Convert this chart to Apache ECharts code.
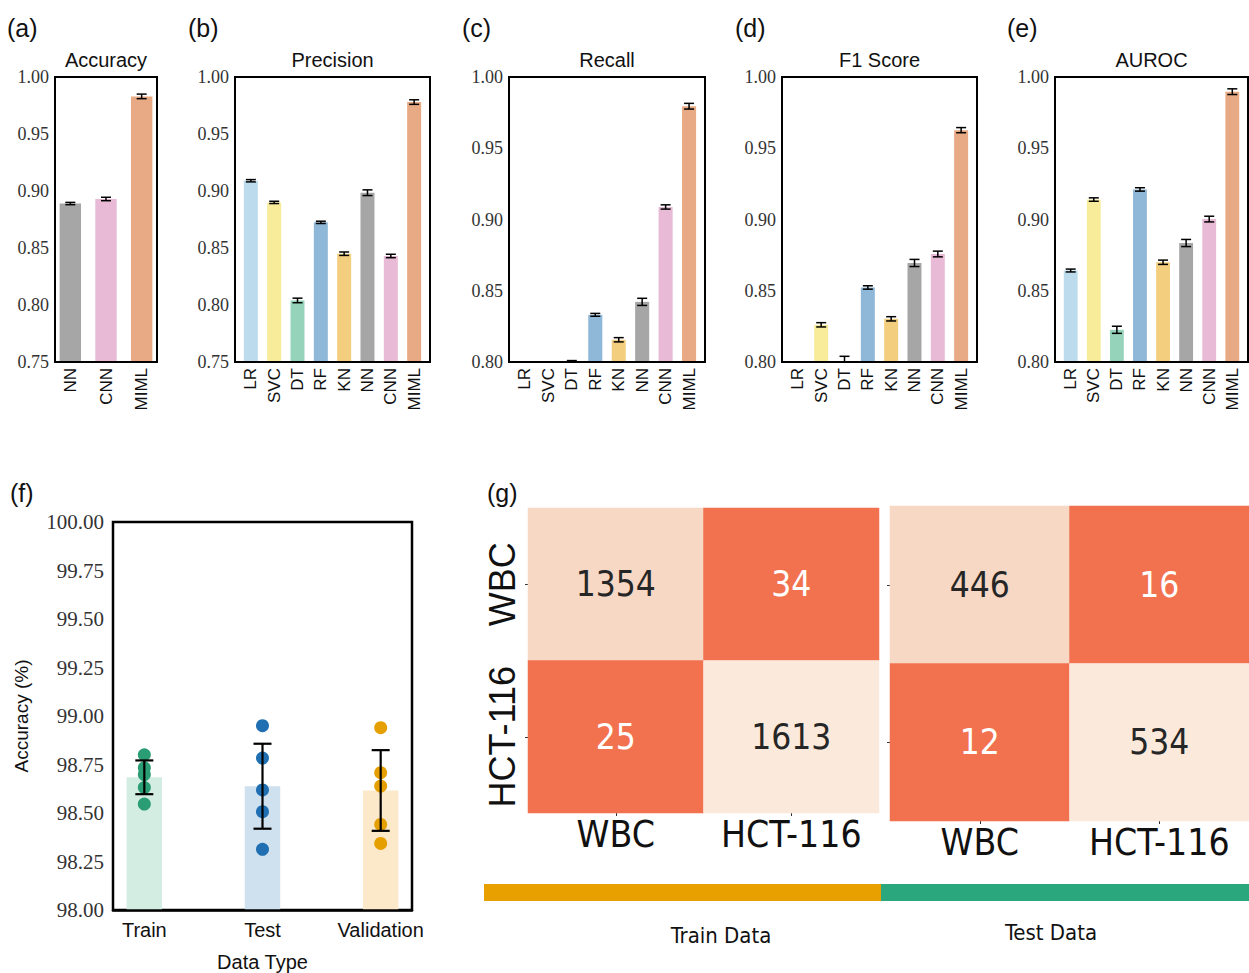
<!DOCTYPE html>
<html>
<head>
<meta charset="utf-8">
<script src="https://cdn.jsdelivr.net/npm/echarts@6/dist/echarts.min.js"></script>
<style>
  html, body { margin: 0; background: #fff; }
  #main { width: 1249px; height: 973px; }
</style>
</head>
<body>
<div id="main"></div>
<script>
// ---- data ----
var models = ['LR', 'SVC', 'DT', 'RF', 'KN', 'NN', 'CNN', 'MIML'];
var modelColors = ['#bcdcee', '#f8ec9a', '#95d4bb', '#8fb8d8', '#f3ce7e', '#a6a6a6', '#e8bad6', '#e8aa84'];

var accModels = ['NN', 'CNN', 'MIML'];
var accMean = [0.889, 0.893, 0.983];
var accErr = [0.001, 0.0015, 0.002];

var precMean = [0.909, 0.890, 0.804, 0.8725, 0.845, 0.8985, 0.843, 0.978];
var precErr = [0.001, 0.001, 0.002, 0.001, 0.0015, 0.0025, 0.0015, 0.002];

var recMean = [0.785, 0.790, 0.7995, 0.8331, 0.8156, 0.8422, 0.9088, 0.9795];
var recErr = [0.001, 0.001, 0.0015, 0.001, 0.0015, 0.0025, 0.0015, 0.002];

var f1Mean = [0.790, 0.8261, 0.800, 0.8523, 0.8303, 0.8695, 0.8758, 0.9627];
var f1Err = [0.001, 0.0015, 0.004, 0.0012, 0.0015, 0.0025, 0.002, 0.0018];

var aucMean = [0.8642, 0.914, 0.8226, 0.9211, 0.870, 0.8835, 0.9003, 0.9897];
var aucErr = [0.001, 0.0012, 0.0025, 0.0012, 0.0015, 0.0025, 0.002, 0.002];

var dataTypes = ['Train', 'Test', 'Validation'];
var typeMean = [98.684, 98.638, 98.616];
var typeErr = [0.087, 0.219, 0.208];
var trainRuns = [98.80, 98.733, 98.698, 98.631, 98.546];
var testRuns = [98.950, 98.783, 98.619, 98.507, 98.313];
var valRuns = [98.940, 98.708, 98.639, 98.441, 98.343];
var typeBarColors = ['#d3ede3', '#cfe0ee', '#fbe9c9'];
var typeDotColors = ['#2a9d74', '#1f6fb2', '#e69f00'];

var cellClasses = ['WBC', 'HCT-116'];
var trainCM = [[1354, 34], [25, 1613]];
var testCM = [[446, 16], [12, 534]];

// ---- helpers ----
var SERIF = '"Liberation Serif", "DejaVu Serif", serif';
var SANS = '"Liberation Sans", "DejaVu Sans", sans-serif';
var NARROW = '"Liberation Sans Narrow", "DejaVu Sans Condensed", "Liberation Sans", sans-serif';

function errorBars(halfCap, lw) {
  return function (params, api) {
    var x = api.value(0);
    var lo = api.coord([x, api.value(1)]);
    var hi = api.coord([x, api.value(2)]);
    var cs = params.coordSys;
    var yTop = cs.y, yBot = cs.y + cs.height;
    var st = { stroke: '#000', lineWidth: lw };
    var kids = [];
    var y1 = Math.max(hi[1], yTop), y2 = Math.min(lo[1], yBot);
    if (y2 > y1) kids.push({ type: 'line', shape: { x1: hi[0], y1: y1, x2: hi[0], y2: y2 }, style: st });
    if (hi[1] >= yTop && hi[1] <= yBot)
      kids.push({ type: 'line', shape: { x1: hi[0] - halfCap, y1: hi[1], x2: hi[0] + halfCap, y2: hi[1] }, style: st });
    if (lo[1] >= yTop && lo[1] <= yBot)
      kids.push({ type: 'line', shape: { x1: lo[0] - halfCap, y1: lo[1], x2: lo[0] + halfCap, y2: lo[1] }, style: st });
    return { type: 'group', children: kids };
  };
}

var grids = [], xAxes = [], yAxes = [], series = [], visualMaps = [], graphics = [];

function addBarPanel(title, letter, letterX, box, cats, colors, mean, err, yMin) {
  var gi = grids.length;
  var n = cats.length;
  var span = (n - 1) + 0.6;
  var xmin = -0.3 - 0.05 * span, xmax = n - 1 + 0.3 + 0.05 * span;
  var barPx = 0.6 * box.width / (xmax - xmin);
  grids.push({ left: box.left, top: 77, width: box.width, height: 285,
    show: true, borderColor: '#000', borderWidth: 2 });
  xAxes.push({ type: 'value', gridIndex: gi, min: xmin, max: xmax, z: 5,
    splitLine: { show: false }, axisTick: { show: false },
    axisLine: { show: true, lineStyle: { color: '#000', width: 2 } },
    axisLabel: { customValues: cats.map(function (c, i) { return i; }),
      formatter: function (v) { return cats[Math.round(v)]; },
      rotate: 90, fontSize: 17, fontFamily: SANS, color: '#111', margin: 6 } });
  yAxes.push({ type: 'value', gridIndex: gi, min: yMin, max: 1, interval: 0.05,
    splitLine: { show: false }, axisTick: { show: false }, axisLine: { show: false },
    axisLabel: { formatter: function (v) { return v.toFixed(2); },
      fontSize: 18, fontFamily: SERIF, color: '#333', margin: 6 } });
  series.push({ type: 'bar', xAxisIndex: gi, yAxisIndex: gi, barWidth: barPx, clip: true,
    data: mean.map(function (v, i) { return { value: [i, v], itemStyle: { color: colors[i] } }; }) });
  series.push({ type: 'custom', xAxisIndex: gi, yAxisIndex: gi, z: 4,
    renderItem: errorBars(5, 1.5), encode: { x: 0, y: [1, 2] },
    data: mean.map(function (v, i) { return [i, v - err[i], v + err[i]]; }) });
  graphics.push({ type: 'text', x: box.left + box.width / 2, y: 60,
    style: { text: title, font: '20px ' + SANS, fill: '#111', align: 'center', verticalAlign: 'middle',
      textAlign: 'center', textVerticalAlign: 'middle' } });
  graphics.push({ type: 'text', x: letterX, y: 28,
    style: { text: letter, font: '25px ' + SANS, fill: '#111', align: 'left', verticalAlign: 'middle',
      textAlign: 'left', textVerticalAlign: 'middle' } });
}

addBarPanel('Accuracy', '(a)', 7, { left: 55, width: 102 }, accModels, [modelColors[5], modelColors[6], modelColors[7]], accMean, accErr, 0.75);
addBarPanel('Precision', '(b)', 188, { left: 235, width: 195 }, models, modelColors, precMean, precErr, 0.75);
addBarPanel('Recall', '(c)', 462, { left: 509, width: 196 }, models, modelColors, recMean, recErr, 0.80);
addBarPanel('F1 Score', '(d)', 735, { left: 782, width: 195 }, models, modelColors, f1Mean, f1Err, 0.80);
addBarPanel('AUROC', '(e)', 1007, { left: 1055, width: 193 }, models, modelColors, aucMean, aucErr, 0.80);

// ---- panel (f) ----
(function () {
  var gi = grids.length;
  var box = { left: 113, top: 522, width: 299, height: 395 };
  var xmin = -0.265, xmax = 2.265;
  grids.push({ left: box.left, top: box.top, width: box.width, height: box.height,
    show: true, borderColor: '#000', borderWidth: 2.5 });
  xAxes.push({ type: 'value', gridIndex: gi, min: xmin, max: xmax, z: 5,
    name: 'Data Type', nameLocation: 'middle', nameGap: 42,
    nameTextStyle: { fontSize: 20, fontFamily: SANS, color: '#111' },
    splitLine: { show: false }, axisTick: { show: false },
    axisLine: { show: true, lineStyle: { color: '#000', width: 2.5 } },
    axisLabel: { customValues: [0, 1, 2], formatter: function (v) { return dataTypes[Math.round(v)]; },
      fontSize: 20, fontFamily: SANS, color: '#111', margin: 10 } });
  yAxes.push({ type: 'value', gridIndex: gi, min: 98, max: 100, interval: 0.25,
    name: 'Accuracy (%)', nameLocation: 'middle', nameRotate: 90, nameGap: 82,
    nameTextStyle: { fontSize: 19, fontFamily: SANS, color: '#111' },
    splitLine: { show: false }, axisTick: { show: false }, axisLine: { show: false },
    axisLabel: { formatter: function (v) { return v.toFixed(2); },
      fontSize: 21, fontFamily: SERIF, color: '#333', margin: 9 } });
  series.push({ type: 'bar', xAxisIndex: gi, yAxisIndex: gi, barWidth: 0.3 * box.width / (xmax - xmin),
    data: typeMean.map(function (v, i) { return { value: [i, v], itemStyle: { color: typeBarColors[i] } }; }) });
  [trainRuns, testRuns, valRuns].forEach(function (runs, k) {
    series.push({ type: 'scatter', xAxisIndex: gi, yAxisIndex: gi, symbolSize: 13, z: 3,
      itemStyle: { color: typeDotColors[k], opacity: 1 },
      data: runs.map(function (v) { return [k, v]; }) });
  });
  series.push({ type: 'custom', xAxisIndex: gi, yAxisIndex: gi, z: 4,
    renderItem: errorBars(9, 2.2), encode: { x: 0, y: [1, 2] },
    data: typeMean.map(function (v, i) { return [i, v - typeErr[i], v + typeErr[i]]; }) });
  graphics.push({ type: 'text', x: 10, y: 493,
    style: { text: '(f)', font: '25px ' + SANS, fill: '#111', align: 'left', verticalAlign: 'middle',
      textAlign: 'left', textVerticalAlign: 'middle' } });
})();

// ---- panel (g) ----
function addHeatmap(cm, box, showYLabels) {
  var gi = grids.length;
  grids.push({ left: box.left, top: box.top, width: box.width, height: box.height });
  xAxes.push({ type: 'category', gridIndex: gi, data: cellClasses, position: 'bottom',
    splitArea: { show: false }, axisLine: { show: false },
    axisTick: { show: true, length: 3, alignWithLabel: true, lineStyle: { color: '#333' } },
    axisLabel: { interval: 0, hideOverlap: false, fontSize: 37, fontFamily: NARROW, color: '#111', margin: 3 } });
  yAxes.push({ type: 'category', gridIndex: gi, data: cellClasses, inverse: true,
    splitArea: { show: false }, axisLine: { show: false },
    axisTick: { show: true, length: 3, alignWithLabel: true, lineStyle: { color: '#333' } },
    axisLabel: { show: showYLabels, interval: 0, hideOverlap: false, rotate: 90, fontSize: 36,
      fontFamily: SANS, color: '#111', margin: 8 } });
  var flat = [].concat(cm[0], cm[1]);
  var lo = Math.min.apply(null, flat), hi = Math.max.apply(null, flat);
  var mid = (lo + hi) / 2;
  var si = series.length;
  var data = [];
  cm.forEach(function (row, r) {
    row.forEach(function (v, c) {
      data.push({ value: [c, r, v], label: { color: v > mid ? '#262626' : '#ffffff' } });
    });
  });
  series.push({ type: 'heatmap', xAxisIndex: gi, yAxisIndex: gi, data: data,
    label: { show: true, fontSize: 35, fontFamily: NARROW,
      formatter: function (p) { return String(p.value[2]); } } });
  visualMaps.push({ type: 'continuous', show: false, seriesIndex: si, dimension: 2, min: lo, max: hi,
    inRange: { color: ['#f2714f', '#f38767', '#f49c7e', '#f5b096', '#f6c5ad', '#f7d8c4', '#fbeadc'] } });
}

addHeatmap(trainCM, { left: 528, top: 508, width: 351, height: 305 }, true);
addHeatmap(testCM, { left: 890, top: 506, width: 359, height: 315 }, false);

graphics.push({ type: 'text', x: 487, y: 493,
  style: { text: '(g)', font: '25px ' + SANS, fill: '#111', align: 'left', verticalAlign: 'middle',
    textAlign: 'left', textVerticalAlign: 'middle' } });
graphics.push({ type: 'rect', shape: { x: 484, y: 884, width: 397, height: 17 }, style: { fill: '#e8a000' } });
graphics.push({ type: 'rect', shape: { x: 881, y: 884, width: 368, height: 17 }, style: { fill: '#2aa77c' } });
graphics.push({ type: 'text', x: 721, y: 935,
  style: { text: 'Train Data', font: '22px ' + NARROW, fill: '#111', align: 'center', verticalAlign: 'middle',
    textAlign: 'center', textVerticalAlign: 'middle' } });
graphics.push({ type: 'text', x: 1051, y: 932,
  style: { text: 'Test Data', font: '22px ' + NARROW, fill: '#111', align: 'center', verticalAlign: 'middle',
    textAlign: 'center', textVerticalAlign: 'middle' } });

var myChart = echarts.init(document.getElementById('main'), null, { renderer: 'svg' });
myChart.setOption({
  animation: false,
  backgroundColor: '#fff',
  grid: grids,
  xAxis: xAxes,
  yAxis: yAxes,
  visualMap: visualMaps,
  series: series,
  graphic: graphics
});
</script>
</body>
</html>
